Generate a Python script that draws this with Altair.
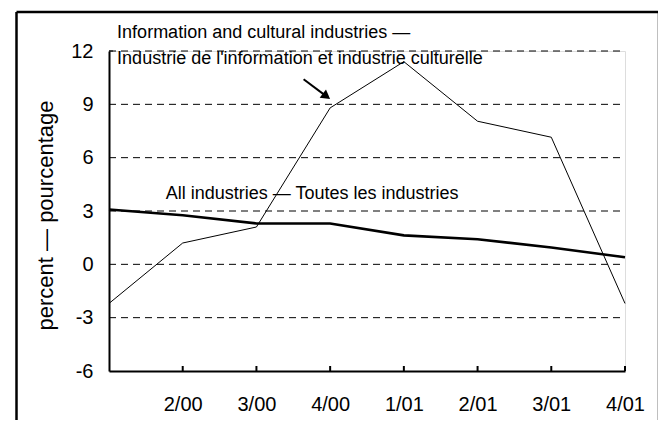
import altair as alt
import pandas as pd

quarters = ["1/00", "2/00", "3/00", "4/00", "1/01", "2/01", "3/01", "4/01"]
info_cultural = [-2.2, 1.2, 2.1, 8.8, 11.4, 8.05, 7.15, -2.2]
all_industries = [3.08, 2.76, 2.3, 2.3, 1.63, 1.41, 0.95, 0.4]

y_ticks = [-6, -3, 0, 3, 6, 9, 12]
grid_values = [-3, 0, 3, 6, 9, 12]

label_lines = [
    "Information and cultural industries \u2014",
    "Industrie de l'information et industrie culturelle",
    "All industries \u2014 Toutes les industries",
]
label_x = [0.11, 0.11, 0.77]
label_y = [13.0, 11.55, 3.98]

arrow_start = (2.64, 10.41)
arrow_head = (2.95, 9.45)

rows = []
for i, q in enumerate(quarters):
    rows.append({"i": i, "q": q, "v": info_cultural[i], "s": "info"})
for i, q in enumerate(quarters):
    rows.append({"i": i, "q": q, "v": all_industries[i], "s": "all"})
df = pd.DataFrame(rows)

FONT = "Liberation Sans"
W, H = 516, 320

label_expr = "[" + ",".join("'%s'" % q for q in quarters) + "][datum.value]"

xs = alt.Scale(domain=[0, 7], nice=False, zero=False)
ys = alt.Scale(domain=[-6, 12], nice=False, zero=False)

base = alt.Chart(df)

lines = base.mark_line(color="black").encode(
    x=alt.X("i:Q", scale=xs,
            axis=alt.Axis(values=list(range(1, len(quarters))), labelExpr=label_expr,
                          title=None, grid=False, ticks=False, domainColor="black",
                          domainWidth=2, labelFont=FONT, labelFontSize=20,
                          labelColor="black", labelPadding=23, labelFlush=False,
                          labelOverlap=False)),
    y=alt.Y("v:Q", scale=ys,
            axis=alt.Axis(values=y_ticks, labelExpr="'' + datum.value",
                          title="percent \u2014 pourcentage",
                          titleFont=FONT, titleFontSize=22, titleFontWeight="normal",
                          titleColor="black", titlePadding=13, titleY=164,
                          grid=False, ticks=False, domainColor="black", domainWidth=2,
                          labelFont=FONT, labelFontSize=20, labelColor="black",
                          labelPadding=16, labelFlush=False, labelOverlap=False)),
    detail="s:N",
    strokeWidth=alt.StrokeWidth("s:N", scale=alt.Scale(domain=["info", "all"], range=[1, 2.6]),
                                legend=None),
)

grid_df = pd.DataFrame({"g": grid_values})
grid = alt.Chart(grid_df).mark_rule(color="black", strokeWidth=1, strokeDash=[7, 5]).encode(
    y=alt.Y("g:Q", scale=ys),
    x=alt.value(0), x2=alt.value(W),
)

tick_df = pd.DataFrame({"t": list(range(1, len(quarters)))})
xticks = alt.Chart(tick_df).mark_rule(color="black", strokeWidth=2).encode(
    x=alt.X("t:Q", scale=xs), y=alt.value(H), y2=alt.value(H - 5),
)
ytop_tick = alt.Chart(pd.DataFrame({"g": [12]})).mark_rule(color="black", strokeWidth=1).encode(
    y=alt.Y("g:Q", scale=ys), x=alt.value(0), x2=alt.value(4),
)

txt_df = pd.DataFrame({"x": label_x, "y": label_y, "t": label_lines})
texts = alt.Chart(txt_df).mark_text(align="left", baseline="middle", font=FONT,
                                     fontSize=18, color="black").encode(
    x=alt.X("x:Q", scale=xs), y=alt.Y("y:Q", scale=ys), text="t:N",
)

arrow_df = pd.DataFrame({"x": [arrow_start[0]], "y": [arrow_start[1]],
                         "x2": [arrow_head[0]], "y2": [arrow_head[1]]})
shaft = alt.Chart(arrow_df).mark_rule(color="black", strokeWidth=2).encode(
    x=alt.X("x:Q", scale=xs), y=alt.Y("y:Q", scale=ys), x2="x2:Q", y2="y2:Q",
)
head = alt.Chart(arrow_df).mark_point(shape="triangle-up", filled=True, color="black",
                                      size=110, angle=127, opacity=1).encode(
    x=alt.X("x2:Q", scale=xs), y=alt.Y("y2:Q", scale=ys),
)

# outer frame
fL, fT, fR, fB = -92.5, -39, 550, 372
frame_l = alt.Chart(grid_df.head(1)).mark_rule(color="black", strokeWidth=2.5).encode(
    x=alt.value(fL), y=alt.value(fT), y2=alt.value(fB))
frame_r = alt.Chart(grid_df.head(1)).mark_rule(color="black", strokeWidth=2.5).encode(
    x=alt.value(fR), y=alt.value(fT), y2=alt.value(fB))
frame_t = alt.Chart(grid_df.head(1)).mark_rule(color="black", strokeWidth=2.5).encode(
    x=alt.value(fL), x2=alt.value(fR), y=alt.value(fT))

chart = alt.layer(grid, lines, xticks, ytop_tick, texts, shaft, head,
                  frame_l, frame_r, frame_t).properties(
    width=W, height=H,
    autosize=alt.AutoSizeParams(type="none"),
    padding={"left": 101, "top": 43, "right": 33, "bottom": 49},
).configure_view(stroke=None).configure(background="white")

chart.save("out.html", embed_options={"renderer": "svg", "actions": False})
